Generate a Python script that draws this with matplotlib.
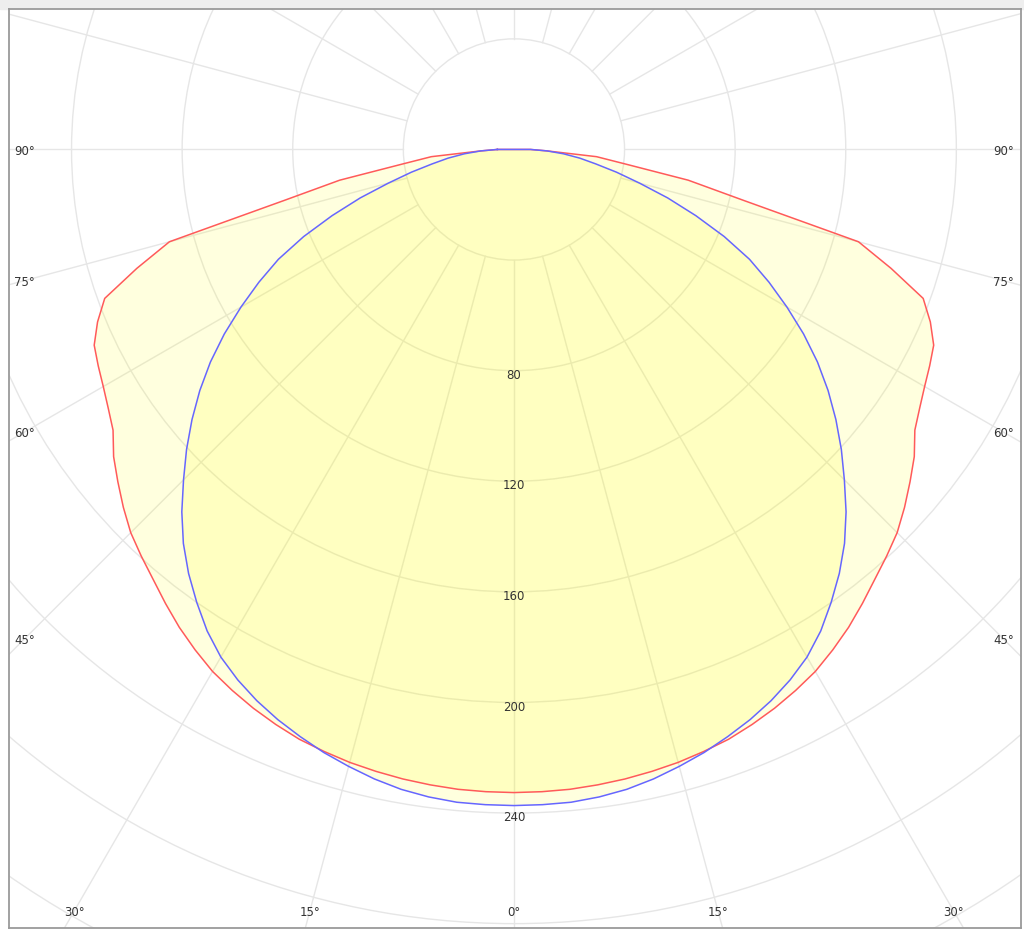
import numpy as np
import matplotlib
matplotlib.use('Agg')
import matplotlib.pyplot as plt
from matplotlib.patches import Circle, Rectangle

# luminous intensity (cd/klm) per gamma angle, symmetric about 0
gamma_deg = [0, 2.5, 5, 7.5, 10, 12.5, 15, 17.5, 20, 22.5, 25, 27.5, 30, 32.5, 35, 37.5,
             40, 42.5, 45, 47.5, 50, 52.5, 55, 57.5, 60, 62.5, 65, 67.5, 70, 72.5, 75,
             77.5, 80, 82.5, 85, 87.5, 90]
c0_c180 = [232.6, 232.5, 232.3, 231.8, 231.2, 230.4, 229.5, 228.3, 227, 225.1, 223,
           220.6, 218, 214.6, 211, 207, 203, 199.5, 196, 191.6, 187, 182.5, 177, 174,
           171.5, 169.5, 167.5, 163, 157.5, 143, 129, 85, 64, 41, 30, 12, 6]
c90_c270 = [237.3, 237.2, 237, 236.2, 235, 233.2, 231, 228.7, 226, 223.2, 220, 216.3,
            212, 206.5, 200, 193.3, 186, 177.8, 169, 160.6, 152, 143.2, 134, 124.2,
            114, 104, 94, 82.3, 70, 58.3, 47, 38, 30, 24, 18, 12, 6]

ring_values = [40, 80, 120, 160, 200, 240, 280, 320, 360]
ring_labels = [80, 120, 160, 200, 240]
spoke_step = 15
angle_labels = [-90, -75, -60, -45, -30, -15, 0, 15, 30, 45, 60, 75, 90]

GRID = '#e6e6e6'
TEXT = '#333333'


def curve_xy(values):
    # mirror the half curve to both sides, left side first
    ang = np.array(gamma_deg, dtype=float)
    val = np.array(values, dtype=float)
    full_ang = np.concatenate([-ang[::-1], ang[1:]])
    full_val = np.concatenate([val[::-1], val[1:]])
    rad = np.radians(full_ang)
    x = full_val * np.sin(rad)
    y = -full_val * np.cos(rad)
    return np.append(x, x[0]), np.append(y, y[0])


fig = plt.figure(figsize=(10.24, 9.31), dpi=100, facecolor='white')
fig.add_artist(Rectangle((0, 1 - 9 / 931), 1, 9 / 931, transform=fig.transFigure,
                         color='#eeeeee', zorder=0))
ax = fig.add_axes([8.5 / 1024, 3.5 / 931, 1012 / 1024, 918.5 / 931])

# grid: rings and spokes
for r in ring_values:
    ax.add_patch(Circle((0, 0), r, fill=False, ec=GRID, lw=1.0, zorder=1))
for a in range(0, 360, spoke_step):
    t = np.radians(a)
    ax.plot([40 * np.sin(t), 420 * np.sin(t)], [-40 * np.cos(t), -420 * np.cos(t)],
            color=GRID, lw=1.0, zorder=1)

# light distribution curves
for values, line_color in [(c0_c180, '#ff5a5a'), (c90_c270, '#6666ff')]:
    x, y = curve_xy(values)
    ax.fill(x, y, color='yellow', alpha=0.13, lw=0, zorder=2)
    ax.plot(x, y, color=line_color, lw=1.1, zorder=3)

# ring labels along the 0 deg axis
for r in ring_labels:
    ax.text(0, -r - 1.7, str(r), ha='center', va='center', fontsize=8.5, color=TEXT, zorder=4)

# angle labels where the spokes meet the inner frame
x_in, y_in = 177.0, 275.4
for a in angle_labels:
    t = np.radians(a)
    s, c = np.sin(t), np.cos(t)
    dist = min(x_in / abs(s) if abs(s) > 1e-9 else np.inf, y_in / c if c > 1e-9 else np.inf)
    ax.text(dist * s, -dist * c - 0.6, f'{abs(a)}\u00b0', ha='center', va='center',
            fontsize=8.5, color=TEXT, zorder=4)

ax.set_xlim(-182.8, 183.2)
ax.set_ylim(-281.4, 50.8)
ax.set_xticks([])
ax.set_yticks([])
for spine in ax.spines.values():
    spine.set_color('#9a9a9a')
    spine.set_linewidth(1.3)

fig.savefig('out.png', dpi=100)
